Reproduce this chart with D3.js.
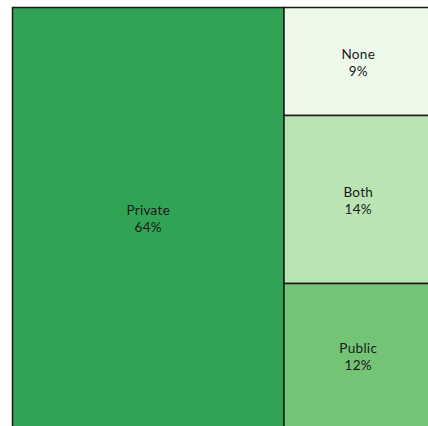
<!DOCTYPE html>
<html>
  <head>
    <title></title>
    <style>
      body, html{
        margin: 0;
        width: 100%;
        height: 100%;
        background: #fff;
        overflow: hidden;
      }
      text{
        font-family: Lato, "DejaVu Sans", sans-serif;
        font-size: 13.5px;
        letter-spacing: 0.3px;
        fill: #1a1a1a;
      }
    </style>
  </head>
  <body>
    <script src="https://cdnjs.cloudflare.com/ajax/libs/d3/7.8.5/d3.min.js" charset="utf-8"></script>
    <script>

var categories = ['Private', 'None', 'Both', 'Public']
var shares = [64, 9, 14, 12]
var colors = ['#31a354', '#edf8e9', '#bae4b3', '#74c476']

var width = 428, height = 426
var x0 = 12.5, y0 = 7.5, size = 420

// private on its own, the rest stacked in one column
var tree = {
  name: 'root',
  children: [
    {name: categories[0], value: shares[0], color: colors[0]},
    {name: 'rest', children: d3.range(1, categories.length).map(function(i){
      return {name: categories[i], value: shares[i], color: colors[i]}
    })}
  ]
}

var root = d3.hierarchy(tree).sum(function(d){ return d.value || 0 })
d3.treemap()
  .tile(d3.treemapSliceDice)
  .size([size, size])
  .paddingInner(0)(root)

var svg = d3.select('body').append('svg').attr('width', width).attr('height', height)
var g = svg.append('g').attr('transform', 'translate(' + x0 + ',' + y0 + ')')

var cell = g.selectAll('g.cell').data(root.leaves()).enter().append('g')
  .attr('class', 'cell')

cell.append('rect')
  .attr('x', function(d){ return d.x0 })
  .attr('y', function(d){ return d.y0 })
  .attr('width', function(d){ return d.x1 - d.x0 })
  .attr('height', function(d){ return d.y1 - d.y0 })
  .style('fill', function(d){ return d.data.color })
  .style('stroke', '#1a1a1a')
  .style('stroke-width', 1.5)

var label = cell.append('text')
  .attr('text-anchor', 'middle')
  .attr('transform', function(d){
    return 'translate(' + (d.x0 + d.x1) / 2 + ',' + (d.y0 + d.y1) / 2 + ')'
  })
label.append('tspan').attr('x', 0).attr('y', -2.5).text(function(d){ return d.data.name })
label.append('tspan').attr('x', 0).attr('y', 14).text(function(d){ return d.data.value + '%' })

    </script>
  </body>
</html>
